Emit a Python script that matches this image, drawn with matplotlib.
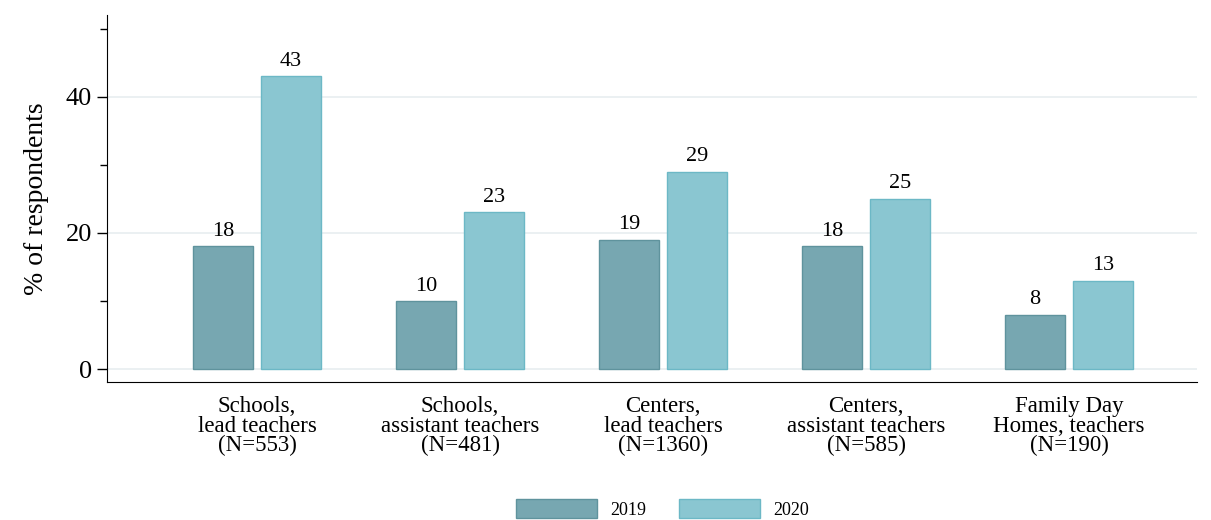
import numpy as np
import matplotlib.pyplot as plt
from matplotlib.patches import Patch

plt.rcParams['font.family'] = ['Liberation Serif', 'DejaVu Serif']

categories = ['Schools,\nlead teachers\n(N=553)',
              'Schools,\nassistant teachers\n(N=481)',
              'Centers,\nlead teachers\n(N=1360)',
              'Centers,\nassistant teachers\n(N=585)',
              'Family Day\nHomes, teachers\n(N=190)']
vals_2019 = [18, 10, 19, 18, 8]
vals_2020 = [43, 23, 29, 25, 13]
years = ['2019', '2020']

c19, e19 = '#77a7b1', '#5f939d'
c20, e20 = '#8ac6d1', '#6cb8c6'

fig = plt.figure(figsize=(12.11, 5.2), dpi=100)
ax = fig.add_axes([0.0884, 0.2654, 0.9, 0.7058])

x = np.arange(len(categories))
w = 0.296
off = 0.167
b1 = ax.bar(x - off, vals_2019, w, color=c19, edgecolor=e19, linewidth=1, zorder=3)
b2 = ax.bar(x + off, vals_2020, w, color=c20, edgecolor=e20, linewidth=1, zorder=3)

for bars in (b1, b2):
    for b in bars:
        ax.text(b.get_x() + b.get_width() / 2, b.get_height() + 0.8,
                '%d' % b.get_height(), ha='center', va='bottom', fontsize=16)

ax.set_xlim(-0.739, 4.63)
ax.set_ylim(-1.9, 52)
ax.set_yticks([0, 20, 40])
ax.set_yticks([10, 30, 50], minor=True)
ax.tick_params(axis='y', which='major', length=7, width=1, labelsize=19, pad=4)
ax.tick_params(axis='y', which='minor', length=5, width=1)
ax.set_xticks(x)
ax.set_xticklabels(categories, fontsize=16.5, linespacing=0.92)
ax.tick_params(axis='x', length=0, pad=10)
ax.grid(axis='y', which='major', color='#e8eef0', linewidth=1.2, zorder=0)
ax.spines['top'].set_visible(False)
ax.spines['right'].set_visible(False)
ax.set_ylabel('% of respondents', fontsize=20, labelpad=12)

handles = [Patch(facecolor=c19, edgecolor=e19), Patch(facecolor=c20, edgecolor=e20)]
fig.legend(handles, years, loc='center', bbox_to_anchor=(0.547, 0.021), ncol=2,
           frameon=False, fontsize=13, handlelength=4.5, handleheight=1.25,
           columnspacing=1.8, handletextpad=0.72)

fig.savefig('out.png', dpi=100)
